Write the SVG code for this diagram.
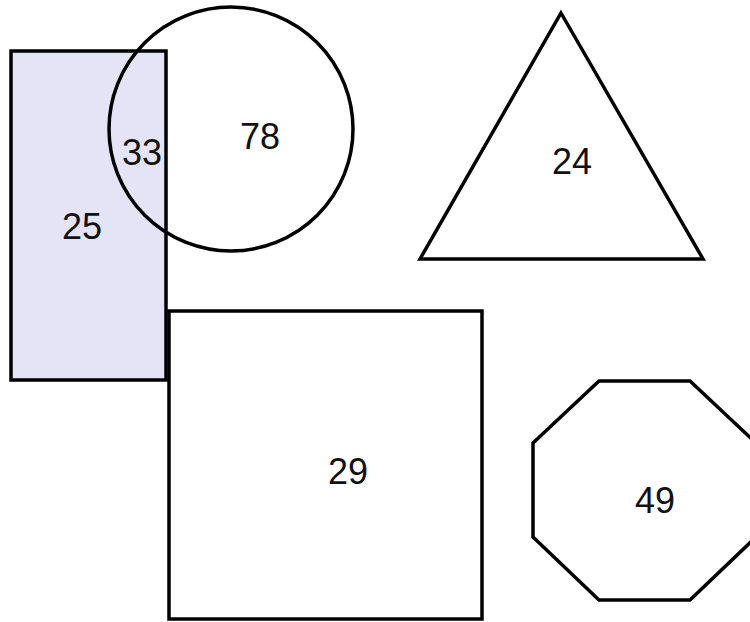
<svg xmlns="http://www.w3.org/2000/svg" width="750" height="622" viewBox="0 0 750 622">
<style>
.s{fill:none;stroke:#000;stroke-width:3.5;stroke-linejoin:miter}
.t{font-family:"Liberation Sans",Arial,Helvetica,sans-serif;font-size:36px;fill:#111;text-anchor:middle}
</style>
<rect width="750" height="622" fill="#fff"/>
<g id="rect25">
<rect x="11" y="51" width="155" height="329" class="s" style="fill:#e4e4f6"/>
<text class="t" x="82" y="239">25</text>
</g>
<g id="circle78">
<circle cx="231" cy="129" r="122" class="s"/>
<text class="t" x="260" y="149">78</text>
</g>
<g id="overlap33">
<text class="t" x="142" y="165">33</text>
</g>
<g id="triangle24">
<polygon points="561,13 703,259 420,259" class="s" style="fill:#fff"/>
<text class="t" x="572" y="174">24</text>
</g>
<g id="square29">
<rect x="169" y="311" width="313" height="308" class="s" style="fill:#fff"/>
<text class="t" x="348" y="484">29</text>
</g>
<g id="octagon49">
<polygon points="599,381 690,381 756,443 756,537 690,600 599,600 533,537 533,443" class="s" style="fill:#fff"/>
<text class="t" x="655" y="513">49</text>
</g>
<g id="connectors"></g>
</svg>
